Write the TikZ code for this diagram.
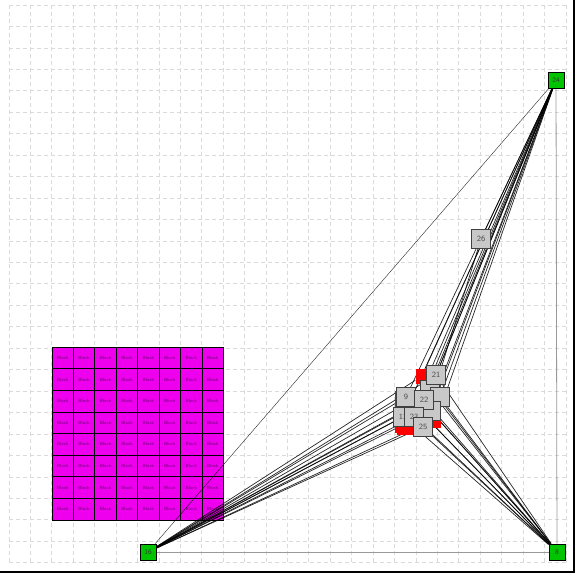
\documentclass[tikz,border=0pt]{standalone}
\usepackage{tikz}
\usepackage{xcolor}
\usetikzlibrary{backgrounds}

\definecolor{gridgray}{RGB}{218,218,218}
\definecolor{blockpink}{RGB}{238,0,238}
\definecolor{blocktext}{RGB}{100,0,110}
\definecolor{padgreen}{RGB}{0,196,0}
\definecolor{cellgray}{RGB}{200,200,200}

\pgfdeclarelayer{bottom}
\pgfsetlayers{bottom,background,main}

\begin{document}
\begin{tikzpicture}[x=1pt,y=-1pt,
  pad/.style={draw=black,line width=0.8pt,fill=padgreen,minimum size=16pt,inner sep=0pt,
    font=\sffamily\fontsize{7}{7}\selectfont,text=black!80},
  cell/.style={draw=black!75,line width=1pt,fill=cellgray,minimum size=19pt,inner sep=0pt,
    font=\sffamily\fontsize{8}{8}\selectfont,text=black!70},
  pin/.style={fill=red,inner sep=0pt},
  blockcell/.style={draw=black,line width=0.7pt,fill=blockpink,minimum width=21.42pt,
    minimum height=21.6pt,inner sep=0pt,font=\sffamily\fontsize{4.5}{5}\selectfont,text=blocktext},
  wire/.style={black,line width=0.7pt,opacity=0.85},
  rail/.style={gray!80,line width=0.8pt}]

\useasboundingbox (0,0) rectangle (575,573);

% pads
\node[pad] (n24) at (556,80) {24};
\node[pad] (n16) at (148,552) {16};
\node[pad] (n8) at (557,552) {8};
\node[cell] (n26) at (481,239) {26};

% red pins behind the cluster
\node[pin,minimum width=13pt,minimum height=15pt] (p1) at (422,376) {};
\node[pin,minimum width=10pt,minimum height=42pt] (p2) at (400,412) {};
\node[pin,minimum width=20pt,minimum height=9pt] (p3) at (407,430) {};
\node[pin,minimum width=8pt,minimum height=20pt] (p4) at (437,418) {};

% cells, back to front
\node[cell] (n10) at (430,390) {};
\node[cell] (n11) at (440,397) {};
\node[cell] (n12) at (415,406) {};
\node[cell] (n17) at (431,411) {};
\node[cell] (n9) at (406,397) {9};
\node[cell] (n13) at (403,417) {13};
\node[cell] (n21) at (436,375) {21};
\node[cell] (n22) at (424,400) {22};
\node[cell] (n23) at (414,417) {23};
\node[cell] (n25) at (423,427) {25};

\begin{pgfonlayer}{bottom}
% grid
\foreach \i in {0,...,26} {
  \draw[gridgray,line width=0.8pt,dash pattern=on 4pt off 3pt] ({9+21.42*\i},5) -- ({9+21.42*\i},563);
  \draw[gridgray,line width=0.8pt,dash pattern=on 4pt off 3pt] (9,{5+21.45*\i}) -- (566,{5+21.45*\i});
}
% block area
\foreach \r in {0,...,7}
  \foreach \c in {0,...,7}
    \node[blockcell] (b\r\c) at ({62.7+21.42*\c},{358+21.6*\r}) {Block};
\end{pgfonlayer}

\begin{pgfonlayer}{background}
\draw[rail] (n24) -- (n8);
\draw[rail] (n16) -- (n8);
\draw[wire,line width=0.4pt] (n16) -- (n24);
\foreach \s in {n9,n10,n11,n12,n13,n17,n21,n22,n23,n25,p1,p4}
  \foreach \t in {n24,n16,n8}
    \draw[wire] (\s) -- (\t);
\draw[wire] (n26) -- (n24);
\draw[wire] (n26) -- (n25);
\end{pgfonlayer}

% frame
\draw[black,line width=1.5pt] (574.2,0) -- (574.2,572.2) -- (0,572.2);
\end{tikzpicture}
\end{document}
